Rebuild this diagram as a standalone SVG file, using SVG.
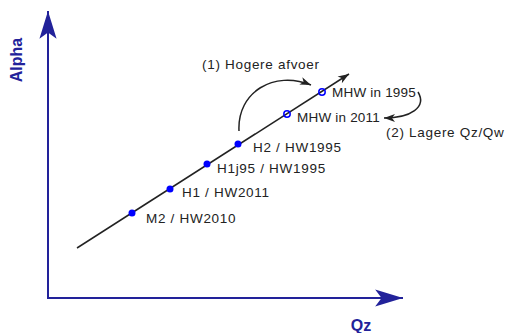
<svg xmlns="http://www.w3.org/2000/svg" width="517" height="333" viewBox="0 0 517 333">
<style>
.axis{stroke:#22229a;stroke-width:2;fill:none}
.axlab{font-family:"Liberation Sans","DejaVu Sans",sans-serif;font-size:16px;fill:#22229a;font-weight:bold}
.lbl{font-family:"Liberation Sans","DejaVu Sans",sans-serif;font-size:13.5px;fill:#222;letter-spacing:0.7px}
.tight{letter-spacing:0.2px}
.curve{stroke:#222;stroke-width:1.5;fill:none}
.pt{fill:#0000ff}
.opt{fill:none;stroke:#0000ff;stroke-width:1.5}
</style>
<defs>
<marker id="bigArrow" markerUnits="userSpaceOnUse" markerWidth="30" markerHeight="20" viewBox="-26 -9 28 18" refX="0" refY="0" orient="auto">
<path d="M0,0 L-26,-8 L-20,0 L-26,8 Z" fill="#22229a"/>
</marker>
<marker id="smallArrow" markerUnits="userSpaceOnUse" markerWidth="14" markerHeight="10" viewBox="-12 -5 13 10" refX="0" refY="0" orient="auto">
<path d="M0,0 L-11,-4 L-8,0 L-11,4 Z" fill="#222"/>
</marker>
</defs>
<g id="axes">
<path class="axis" d="M48,298 L48,11" marker-end="url(#bigArrow)"/>
<path class="axis" d="M47,298 L403,298" marker-end="url(#bigArrow)"/>
<text class="axlab" transform="translate(22,60) rotate(-90)" text-anchor="middle">Alpha</text>
<text class="axlab" x="361" y="331" text-anchor="middle">Qz</text>
</g>
<g id="connectors">
<path class="curve" d="M77,248 L349,74" marker-end="url(#smallArrow)"/>
<path class="curve" d="M239,131 C237,92 274,70 311,85" marker-end="url(#smallArrow)"/>
<path class="curve" d="M418,92 C427,107 411,118 384,118" marker-end="url(#smallArrow)"/>
</g>
<g id="M2"><circle class="pt" cx="132" cy="213" r="3.5"/><text class="lbl" x="146" y="223">M2 / HW2010</text></g>
<g id="H1"><circle class="pt" cx="170" cy="189" r="3.5"/><text class="lbl" x="182" y="197">H1 / HW2011</text></g>
<g id="H1j95"><circle class="pt" cx="207" cy="164" r="3.5"/><text class="lbl" x="217" y="173">H1j95 / HW1995</text></g>
<g id="H2"><circle class="pt" cx="238" cy="144" r="3.5"/><text class="lbl" x="253" y="152">H2 / HW1995</text></g>
<g id="MHW2011"><circle class="opt" cx="287" cy="114" r="3.2"/><text class="lbl tight" x="297" y="122">MHW in 2011</text></g>
<g id="MHW1995"><circle class="opt" cx="322" cy="92" r="3.2"/><text class="lbl tight" x="332" y="97">MHW in 1995</text></g>
<g id="labels">
<text class="lbl" x="202" y="69">(1) Hogere afvoer</text>
<text class="lbl" x="386" y="137">(2) Lagere Qz/Qw</text>
</g>
</svg>
